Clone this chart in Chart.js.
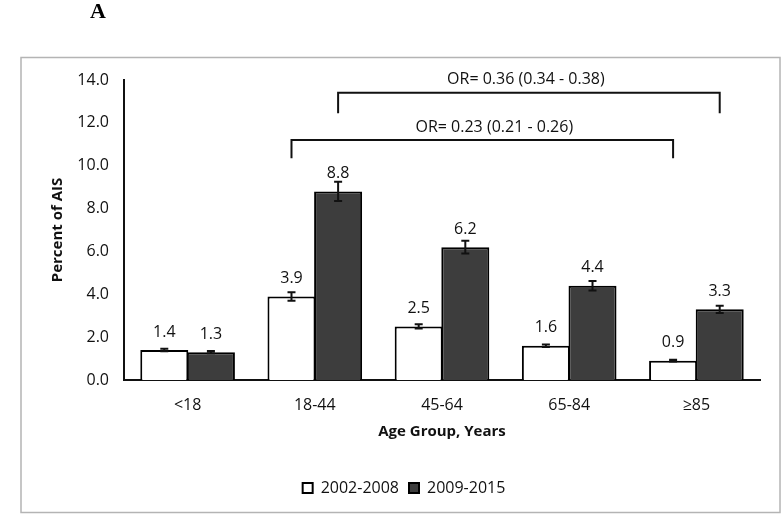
<!DOCTYPE html>
<html>
<head>
<meta charset="utf-8">
<script src="https://cdn.jsdelivr.net/npm/chart.js@4.4.1/dist/chart.umd.min.js"></script>
<style>
  html, body { margin: 0; padding: 0; background: #fff; }
  #wrap { width: 783px; height: 515px; position: relative; }
</style>
</head>
<body>
<div id="wrap"><canvas id="c"></canvas></div>
<script>
// --- data ---
const ageGroups = ['<18', '18-44', '45-64', '65-84', '\u226585'];
const early = [1.4, 3.9, 2.5, 1.6, 0.9];       // 2002-2008
const late = [1.3, 8.8, 6.2, 4.4, 3.3];        // 2009-2015
const earlyErr = [0.06, 0.2, 0.1, 0.06, 0.04];
const lateErr = [0.05, 0.45, 0.3, 0.22, 0.17];
const yTicks = [0, 2, 4, 6, 8, 10, 12, 14];

// odds-ratio brackets: joins the same series at two age groups
const brackets = [
  { ds: 1, from: 1, to: 4, y: 13.4, legEnd: 12.45, text: 'OR= 0.36 (0.34 - 0.38)', dx: -3 },
  { ds: 0, from: 1, to: 4, y: 11.2, legEnd: 10.35, text: 'OR= 0.23 (0.21 - 0.26)', dx: 12 },
];

const FONT = "'Open Sans', 'DejaVu Sans', sans-serif";
const errs = [earlyErr, lateErr];

const frame = {
  id: 'frame',
  beforeDraw(chart) {
    const { ctx } = chart;
    ctx.save();
    ctx.fillStyle = '#fff';
    ctx.fillRect(0, 0, chart.width, chart.height);
    ctx.strokeStyle = '#b4b4b4';
    ctx.lineWidth = 1.5;
    ctx.strokeRect(21, 57.5, 759, 455);
    ctx.fillStyle = '#000';
    ctx.font = "bold 22px 'Liberation Serif', 'DejaVu Serif', serif";
    ctx.textAlign = 'center';
    ctx.textBaseline = 'middle';
    ctx.fillText('A', 98, 12);
    ctx.restore();
  },
};

const extras = {
  id: 'extras',
  afterDatasetsDraw(chart) {
    const { ctx } = chart;
    const y = chart.scales.y;
    ctx.save();
    // error bars
    ctx.strokeStyle = '#111';
    ctx.lineWidth = 2;
    chart.data.datasets.forEach((ds, di) => {
      chart.getDatasetMeta(di).data.forEach((el, i) => {
        const v = ds.data[i], e = errs[di][i];
        const t = y.getPixelForValue(v + e), b = y.getPixelForValue(v - e);
        ctx.beginPath();
        ctx.moveTo(el.x, t); ctx.lineTo(el.x, b);
        ctx.moveTo(el.x - 4, t); ctx.lineTo(el.x + 4, t);
        ctx.moveTo(el.x - 4, b); ctx.lineTo(el.x + 4, b);
        ctx.stroke();
      });
    });
    // value labels
    ctx.fillStyle = '#111';
    ctx.font = '16px ' + FONT;
    ctx.textAlign = 'center';
    ctx.textBaseline = 'middle';
    chart.data.datasets.forEach((ds, di) => {
      chart.getDatasetMeta(di).data.forEach((el, i) => {
        ctx.fillText(ds.data[i].toFixed(1), el.x, el.y - 18);
      });
    });
    // brackets
    ctx.lineWidth = 2;
    ctx.font = '16px ' + FONT;
    brackets.forEach((br) => {
      const meta = chart.getDatasetMeta(br.ds);
      const x1 = meta.data[br.from].x, x2 = meta.data[br.to].x;
      const yl = y.getPixelForValue(br.y), ye = y.getPixelForValue(br.legEnd);
      ctx.beginPath();
      ctx.moveTo(x1, ye); ctx.lineTo(x1, yl); ctx.lineTo(x2, yl); ctx.lineTo(x2, ye);
      ctx.stroke();
      ctx.fillText(br.text, (x1 + x2) / 2 + br.dx, yl - 13);
    });
    ctx.restore();
  },
};

new Chart(document.getElementById('c'), {
  type: 'bar',
  data: {
    labels: ageGroups,
    datasets: [
      { label: '2002-2008', data: early, backgroundColor: '#ffffff', borderColor: '#000', borderWidth: 2 },
      { label: '2009-2015', data: late, backgroundColor: '#3d3d3d', borderColor: '#000', borderWidth: 2 },
    ],
  },
  options: {
    responsive: true,
    maintainAspectRatio: false,
    animation: false,
    categoryPercentage: 0.733,
    barPercentage: 1.03,
    layout: { padding: { left: 48, right: 23, top: 80, bottom: 9 } },
    plugins: {
      tooltip: { enabled: false },
      legend: {
        position: 'bottom',
        labels: {
          boxWidth: 10, boxHeight: 10, padding: 10, color: '#111',
          font: { family: FONT, size: 16 },
        },
      },
    },
    scales: {
      x: {
        grid: { display: false, drawTicks: false },
        border: { display: true, color: '#111', width: 2 },
        ticks: { color: '#111', padding: 16, font: { family: FONT, size: 16 } },
        title: {
          display: true, text: 'Age Group, Years', color: '#111',
          font: { family: FONT, size: 15, weight: 'bold' },
          padding: { top: 0, bottom: 29 },
        },
        afterFit: (s) => { s.height = 90; },
      },
      y: {
        min: 0, max: 14,
        afterBuildTicks: (s) => { s.ticks = yTicks.map((v) => ({ value: v })); },
        grid: { display: false, drawTicks: false },
        border: { display: true, color: '#111', width: 2 },
        ticks: { color: '#111', padding: 15, font: { family: FONT, size: 16 }, callback: (v) => v.toFixed(1) },
        title: {
          display: true, text: 'Percent of AIS', color: '#111',
          font: { family: FONT, size: 15, weight: 'bold' },
          padding: { top: 1, bottom: 0 },
        },
        afterFit: (s) => { s.width = 76; },
      },
    },
  },
  plugins: [frame, extras],
});
</script>
</body>
</html>
